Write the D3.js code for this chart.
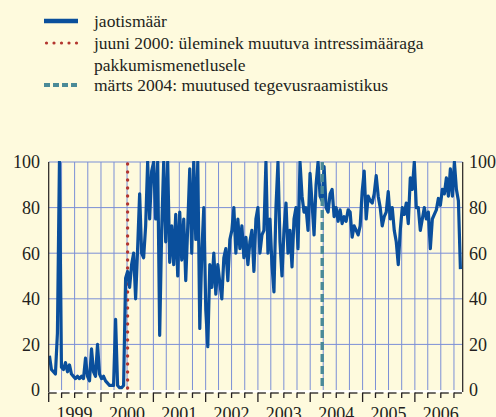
<!DOCTYPE html>
<html><head><meta charset="utf-8">
<script src="https://cdn.jsdelivr.net/npm/d3@7"></script>
<style>
html,body{margin:0;padding:0;background:#FEFADD;}
svg{display:block;}
svg text{font-family:"Liberation Serif","DejaVu Serif",Tinos,"Times New Roman",Times,serif !important;}
</style></head>
<body>
<svg id="chart" width="496" height="417"></svg>
<script>
// ---- data ----
const yearLabels = ["1999","2000","2001","2002","2003","2004","2005","2006"];
const yTickValues = [0,20,40,60,80,100];
const seriesStart = "1999-01-06";   // first tender shown
const seriesStepDays = 14;          // one value per two weeks
const allotmentRatio = [
 15,9,8,7,25,100,10,9,12,8,11,7,6,5,6,5,6,5,14,6,
 4,18,8,6,20,7,5,6,4,3,2,2,2,31,2,1,1,2,49,52,
 45,55,60,40,62,86,60,58,72,100,75,96,100,75,100,24,70,100,65,100,
 56,72,55,77,50,78,57,75,48,72,97,60,100,66,100,27,60,80,35,19,
 55,45,60,42,55,47,40,58,62,48,66,70,80,60,75,62,72,58,67,55,
 65,70,52,75,80,60,68,70,100,60,75,55,43,80,100,65,50,70,82,60,
 70,54,75,80,62,100,85,78,80,70,95,82,68,90,100,85,83,98,80,78,
 86,88,76,80,74,79,73,76,74,79,78,67,72,70,68,72,87,96,75,85,
 83,82,86,94,85,80,72,76,78,87,75,80,70,65,55,70,80,77,82,73,
 93,88,100,80,80,70,75,80,75,78,62,75,77,79,84,81,88,86,93,85,
 97,85,100,88,83,53
];
const eventDates = ["2000-07-05","2004-03-25"];
const legendLabels = [
  ["jaotismäär"],
  ["juuni 2000: üleminek muutuva intressimääraga","pakkumismenetlusele"],
  ["märts 2004: muutused tegevusraamistikus"]
];

// ---- layout ----
const svg = d3.select("#chart");
const L = 48.7, R = 462.7, T = 162, B = 390;
const parse = d3.timeParse("%Y-%m-%d");
const x = d3.scaleTime().domain([new Date(1999,0,1), new Date(2006,11,1)]).range([L,R]);
const y = d3.scaleLinear().domain([0,100]).range([B,T]);

const start = parse(seriesStart);
const data = allotmentRatio.map((v,i)=>({d:d3.timeDay.offset(start,i*seriesStepDays), v}));

const gridCol = "#7B8FD6";
svg.append("g").selectAll("line").data(yTickValues.filter(v=>v>0)).join("line")
  .attr("x1",L).attr("x2",R).attr("y1",d=>y(d)).attr("y2",d=>y(d))
  .attr("stroke",gridCol).attr("stroke-width",1);
const quarters = d3.timeMonth.every(3).range(new Date(1999,0,1), new Date(2006,11,1));
svg.append("g").selectAll("line").data(quarters.slice(1)).join("line")
  .attr("x1",d=>x(d)).attr("x2",d=>x(d)).attr("y1",T).attr("y2",B)
  .attr("stroke",gridCol).attr("stroke-width",1);

svg.append("clipPath").attr("id","clip").append("rect")
  .attr("x",L).attr("y",T-1).attr("width",R-L).attr("height",B-T+2);

svg.append("line").attr("x1",x(parse(eventDates[0]))).attr("x2",x(parse(eventDates[0])))
  .attr("y1",T+2).attr("y2",B).attr("stroke","#B3362F").attr("stroke-width",3.4)
  .attr("stroke-linecap","round").attr("stroke-dasharray","0 8");

const line = d3.line().x(d=>x(d.d)).y(d=>y(d.v));
svg.append("path").datum(data).attr("d",line).attr("fill","none")
  .attr("stroke","#0A4F9C").attr("stroke-width",3.2).attr("stroke-linejoin","round")
  .attr("clip-path","url(#clip)");

svg.append("line").attr("x1",x(parse(eventDates[1]))).attr("x2",x(parse(eventDates[1])))
  .attr("y1",T).attr("y2",B).attr("stroke","#4A8A98").attr("stroke-width",3.4)
  .attr("stroke-dasharray","8 4");

svg.append("line").attr("x1",L).attr("x2",R).attr("y1",B+1.5).attr("y2",B+1.5)
  .attr("stroke","#FFFFFF").attr("stroke-width",2.5);

svg.append("line").attr("x1",L).attr("x2",L).attr("y1",T).attr("y2",B+2).attr("stroke","#231F20").attr("stroke-width",1.2);
svg.append("line").attr("x1",R).attr("x2",R).attr("y1",T).attr("y2",B+2).attr("stroke","#231F20").attr("stroke-width",1.2);

const tickG = svg.append("g").attr("stroke","#231F20").attr("stroke-width",1.3);
quarters.forEach(q=>{
  const xx = x(q);
  const isYear = q.getMonth()===0;
  tickG.append("line").attr("x1",xx).attr("x2",xx).attr("y1",B+2.5).attr("y2",B+(isYear?12:8));
  const nx = Math.min(xx+8, R);
  tickG.append("line").attr("x1",xx).attr("x2",nx).attr("y1",B+3).attr("y2",B+3);
});

function txt(g){ return g.attr("fill","#231F20"); }

txt(svg.append("g")).selectAll("text").data(yTickValues).join("text")
  .attr("x",40).attr("y",d=>y(d)).attr("dy","0.35em").attr("text-anchor","end")
  .attr("font-size",18).text(d=>d);
txt(svg.append("g")).selectAll("text").data(yTickValues).join("text")
  .attr("x",469).attr("y",d=>y(d)).attr("dy","0.35em").attr("text-anchor","start")
  .attr("font-size",18).text(d=>d);

txt(svg.append("g")).selectAll("text").data(yearLabels).join("text")
  .attr("x",d=>x(new Date(+d,6,1))).attr("y",420).attr("text-anchor","middle")
  .attr("font-size",18).text(d=>d);

const lg = svg.append("g");
const lx0 = 44, lx1 = 78, tx = 94;
const rows = [21, 43, 85];
lg.append("line").attr("x1",lx0).attr("x2",lx1).attr("y1",rows[0]).attr("y2",rows[0])
  .attr("stroke","#0A4F9C").attr("stroke-width",4.5);
lg.append("line").attr("x1",lx0+2.5).attr("x2",lx1).attr("y1",rows[1]).attr("y2",rows[1])
  .attr("stroke","#B3362F").attr("stroke-width",3.2).attr("stroke-linecap","round").attr("stroke-dasharray","0 7.5");
lg.append("line").attr("x1",lx0).attr("x2",lx1).attr("y1",rows[2]).attr("y2",rows[2])
  .attr("stroke","#4A8A98").attr("stroke-width",4).attr("stroke-dasharray","6 3");
legendLabels.forEach((lines,i)=>{
  lines.forEach((s,j)=>{
    txt(lg.append("text")).attr("x",tx).attr("y",rows[i]+j*21.5).attr("dy","0.35em")
      .attr("font-size",17.5).text(s);
  });
});
</script>
</body></html>
